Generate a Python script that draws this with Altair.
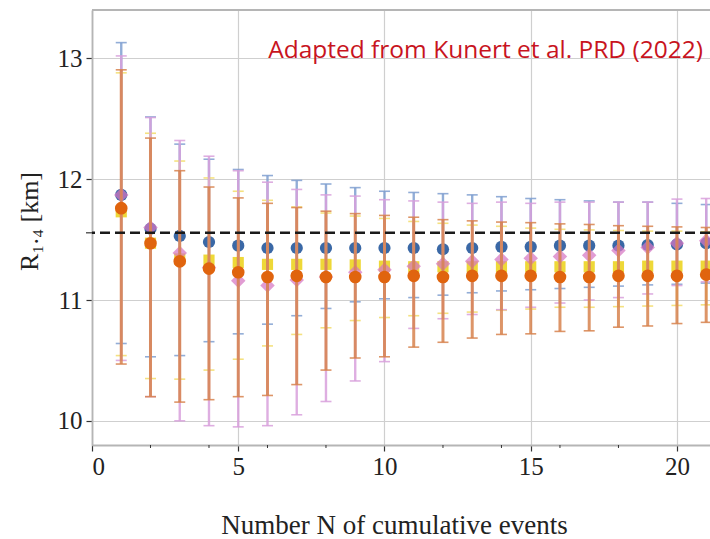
import altair as alt
import pandas as pd

# ---------------- data ----------------
N = list(range(1, 22))

blue_y = [11.87, 11.59, 11.53, 11.48, 11.45, 11.43, 11.43, 11.43, 11.43, 11.43, 11.43,
          11.42, 11.43, 11.44, 11.44, 11.45, 11.45, 11.45, 11.455, 11.46, 11.47]
blue_hi = [13.13, 12.515, 12.29, 12.165, 12.08, 12.03, 11.99, 11.96, 11.93, 11.90, 11.89,
           11.88, 11.87, 11.855, 11.84, 11.83, 11.82, 11.81, 11.81, 11.80, 11.79]
blue_lo = [10.64, 10.53, 10.54, 10.655, 10.72, 10.80, 10.87, 10.93, 10.985, 11.01, 11.02,
           11.04, 11.06, 11.075, 11.085, 11.095, 11.105, 11.115, 11.125, 11.13, 11.14]

yellow_y = [11.73, 11.47, 11.34, 11.33, 11.31, 11.295, 11.295, 11.295, 11.29, 11.28, 11.275,
            11.275, 11.275, 11.275, 11.275, 11.275, 11.275, 11.275, 11.28, 11.28, 11.28]
yellow_hi = [12.88, 12.38, 12.15, 12.01, 11.90, 11.825, 11.77, 11.72, 11.695, 11.675, 11.65,
             11.635, 11.62, 11.61, 11.595, 11.585, 11.58, 11.575, 11.57, 11.57, 11.565]
yellow_lo = [10.54, 10.35, 10.345, 10.42, 10.51, 10.62, 10.715, 10.77, 10.83, 10.855, 10.87,
             10.89, 10.90, 10.915, 10.925, 10.94, 10.94, 10.945, 10.95, 10.955, 10.96]

pink_y = [11.87, 11.60, 11.39, 11.27, 11.16, 11.12, 11.165, 11.19, 11.23, 11.25, 11.28,
          11.30, 11.32, 11.335, 11.345, 11.36, 11.37, 11.41, 11.435, 11.47, 11.49]
pink_hi = [13.02, 12.51, 12.32, 12.19, 12.07, 11.975, 11.915, 11.87, 11.86, 11.83, 11.82,
           11.81, 11.80, 11.81, 11.80, 11.81, 11.81, 11.81, 11.81, 11.835, 11.84]
pink_lo = [10.50, 10.20, 10.00, 9.96, 9.95, 9.96, 10.05, 10.16, 10.33, 10.49, 10.765,
           10.845, 10.88, 10.92, 10.94, 10.975, 11.00, 11.02, 11.05, 11.12, 11.15]

orange_y = [11.76, 11.47, 11.32, 11.26, 11.23, 11.19, 11.20, 11.19, 11.19, 11.19, 11.20,
            11.19, 11.20, 11.20, 11.20, 11.19, 11.19, 11.20, 11.20, 11.20, 11.21]
orange_hi = [12.905, 12.34, 12.07, 11.935, 11.845, 11.80, 11.765, 11.735, 11.715, 11.70, 11.685,
             11.665, 11.655, 11.645, 11.64, 11.63, 11.625, 11.615, 11.61, 11.605, 11.60]
orange_lo = [10.47, 10.20, 10.155, 10.175, 10.20, 10.21, 10.30, 10.42, 10.52, 10.53, 10.61,
             10.65, 10.685, 10.715, 10.72, 10.74, 10.745, 10.775, 10.785, 10.805, 10.815]

reference_R = 11.556
x_major = [0, 5, 10, 15, 20]
x_minor = [2, 4, 6, 8, 12, 14, 16, 18]
y_major = [10, 11, 12, 13]

# ---------------- layout ----------------
W, H = 618, 435
XDOM = [0, 21.13]
YDOM = [9.80, 13.40]

xs = alt.Scale(domain=XDOM, nice=False, zero=False)
ys = alt.Scale(domain=YDOM, nice=False, zero=False)

SERIF = "Liberation Serif"

xaxis = alt.Axis(values=x_major, format="d", grid=True, gridColor="#cfcfcf", gridWidth=1.2,
                 domainColor="#b5b5b5", domainWidth=1.8, tickColor="#333333", tickSize=6,
                 tickWidth=1.2, labelFont=SERIF, labelFontSize=25, labelColor="#222222",
                 labelPadding=3, title="Number N of cumulative events", titleFont=SERIF,
                 titleFontSize=27, titleFontWeight="normal", titleColor="#222222",
                 titleX=302, titleY=88, titleAlign="center", titleBaseline="alphabetic")
yaxis = alt.Axis(values=y_major, format="d", grid=True, gridColor="#cfcfcf", gridWidth=1.2,
                 domainColor="#b5b5b5", domainWidth=1.8, tickColor="#333333", tickSize=6,
                 tickWidth=1.2, labelFont=SERIF, labelFontSize=25, labelColor="#222222",
                 labelPadding=4, title="R₁.₄ [km]", titleFont=SERIF, titleFontSize=26,
                 titleFontWeight="normal", titleColor="#222222", titleAngle=270,
                 titleX=-50, titleY=211, titleAlign="center", titleBaseline="bottom")


def X(field):
    return alt.X(field, type="quantitative", scale=xs, axis=xaxis)


def Y(field):
    return alt.Y(field, type="quantitative", scale=ys, axis=yaxis)


def frame(y, lo, hi):
    return pd.DataFrame({"N": N, "y": y, "lo": lo, "hi": hi})


def series(df, bar_color, bar_w, bar_op, mcolor, shape, size, mop):
    base = alt.Chart(df)
    bars = base.mark_rule(color=bar_color, strokeWidth=bar_w, opacity=bar_op).encode(
        x=X("N"), y=Y("lo"), y2="hi")
    cap_lo = base.mark_tick(color=bar_color, orient="horizontal", size=11, thickness=1.6,
                            opacity=bar_op).encode(x=X("N"), y=Y("lo"))
    cap_hi = base.mark_tick(color=bar_color, orient="horizontal", size=11, thickness=1.6,
                            opacity=bar_op).encode(x=X("N"), y=Y("hi"))
    pts = base.mark_point(filled=True, shape=shape, size=size, color=mcolor, opacity=mop,
                          strokeWidth=0).encode(x=X("N"), y=Y("y"))
    return [bars, cap_lo, cap_hi, pts]


layers = []
layers += series(frame(blue_y, blue_lo, blue_hi), "#7f9fd0", 2.4, 0.85, "#3a68a6", "circle", 150, 1.0)
layers += series(frame(yellow_y, yellow_lo, yellow_hi), "#f2dc6a", 2.2, 0.85, "#eed838", "square", 125, 1.0)
layers += series(frame(pink_y, pink_lo, pink_hi), "#d8a0dc", 2.4, 0.85, "#d676c2", "diamond", 210, 0.72)
layers += series(frame(orange_y, orange_lo, orange_hi), "#d7824e", 3.0, 0.85, "#e0640e", "circle", 160, 1.0)

# reference (dashed) line
ref = alt.Chart(pd.DataFrame({"r": [reference_R]})).mark_rule(
    color="#1a1a1a", strokeWidth=2.6, strokeDash=[10, 5]).encode(y=Y("r"))
ref_tick = alt.Chart(pd.DataFrame({"r": [reference_R]})).mark_rule(
    color="#333333", strokeWidth=1.2).encode(y=Y("r"), x=alt.value(-6), x2=alt.value(0))

# minor x ticks
minor = alt.Chart(pd.DataFrame({"m": x_minor})).mark_rule(
    color="#333333", strokeWidth=1.0).encode(x=X("m"), y=alt.value(H), y2=alt.value(H + 3))

# top frame line
top = alt.Chart(pd.DataFrame({"a": [0]})).mark_rule(color="#b5b5b5", strokeWidth=1.8).encode(
    x=alt.value(0), x2=alt.value(W), y=alt.value(0))

note = alt.Chart(pd.DataFrame({"t": ["Adapted from Kunert et al. PRD (2022)"]})).mark_text(
    font="Open Sans", fontSize=24.5, color="#c8141e", align="right", baseline="alphabetic"
).encode(text="t:N", x=alt.value(611), y=alt.value(48))

chart = alt.layer(top, *layers, ref, ref_tick, minor, note).properties(
    width=W, height=H,
    autosize=alt.AutoSizeParams(type="none"),
    padding={"left": 92, "top": 10, "right": 0, "bottom": 94},
    background="white",
).configure_view(stroke=None)

chart.save("out.html", embed_options={"renderer": "svg", "actions": False})
